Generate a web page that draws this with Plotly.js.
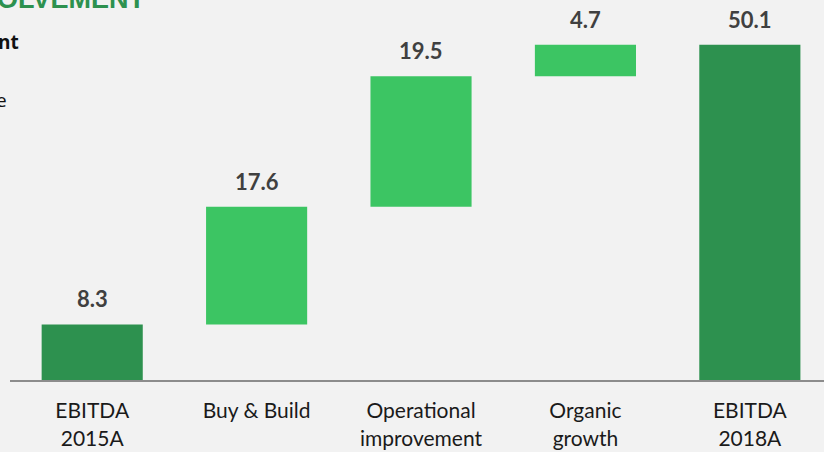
<!DOCTYPE html>
<html>
<head>
<meta charset="utf-8">
<script src="https://cdn.plot.ly/plotly-3.0.1.min.js"></script>
<style>
html,body{margin:0;padding:0;background:#f2f2f2;overflow:hidden;}
#chart{width:824px;height:452px;}
</style>
</head>
<body>
<div id="chart"></div>
<script>
var categories = ['EBITDA<br>2015A', 'Buy & Build', 'Operational<br>improvement', 'Organic<br>growth', 'EBITDA<br>2018A'];
var values = [8.3, 17.6, 19.5, 4.7, 50.1];
var measures = ['total', 'relative', 'relative', 'relative', 'total'];
var valueLabels = ['8.3', '17.6', '19.5', '4.7', '50.1'];

var darkGreen = '#2d914f';
var lightGreen = '#3cc563';

var idx = categories.map(function(_, i){ return i; });
var bases = [], tops = [], cum = 0;
for (var i = 0; i < values.length; i++) {
  if (measures[i] === 'total') { bases.push(0); cum = values[i]; tops.push(values[i]); }
  else { bases.push(cum); cum += values[i]; tops.push(cum); }
}
var colors = measures.map(function(m){ return m === 'total' ? darkGreen : lightGreen; });

var trace = {
  type: 'bar',
  x: idx,
  y: values,
  base: bases,
  width: idx.map(function(){ return 0.615; }),
  marker: {color: colors, line: {width: 0}},
  hoverinfo: 'none'
};

var font = 'Lato, "Open Sans", sans-serif';
var annotations = idx.map(function(i){
  return {
    x: i, y: tops[i], xref: 'x', yref: 'y',
    text: valueLabels[i], showarrow: false,
    xanchor: 'center', yanchor: 'bottom', yshift: 10,
    font: {family: font, size: 22, color: '#404040', weight: 'bold'}
  };
});
// fragments of slide text at the top left
annotations.push({xref:'paper', yref:'paper', x:(-5-10)/814, y:(380-16)/380, xanchor:'left', yanchor:'bottom',
  text:'<b>OLVEMENT</b>', showarrow:false, font:{family:'"Liberation Sans", Arial, sans-serif', size:27, color:'#2d914f'}});
annotations.push({xref:'paper', yref:'paper', x:(-4-10)/814, y:(380-42)/380, xanchor:'left', yanchor:'middle',
  text:'<b>nt</b>', showarrow:false, font:{family:'"Open Sans", sans-serif', size:19, color:'#111111'}});
annotations.push({xref:'paper', yref:'paper', x:(-6-10)/814, y:(380-100)/380, xanchor:'left', yanchor:'middle',
  text:'e', showarrow:false, font:{family:'"Open Sans", sans-serif', size:19, color:'#111111'}});

var layout = {
  width: 824, height: 452,
  paper_bgcolor: '#f2f2f2', plot_bgcolor: '#f2f2f2',
  margin: {l: 10, r: 0, t: 0, b: 72},
  showlegend: false,
  xaxis: {
    range: [-0.5, 4.451], tickvals: idx, ticktext: categories,
    showgrid: false, zeroline: false, showline: true, linecolor: '#8c8c8c', linewidth: 2,
    ticks: '', fixedrange: true, ticklabelstandoff: 11,
    tickfont: {family: font, size: 21, color: '#1a1a1a'}
  },
  yaxis: {range: [0, 56.8], visible: false, fixedrange: true},
  annotations: annotations
};

Plotly.newPlot('chart', [trace], layout, {displayModeBar: false, staticPlot: true});
</script>
</body>
</html>
